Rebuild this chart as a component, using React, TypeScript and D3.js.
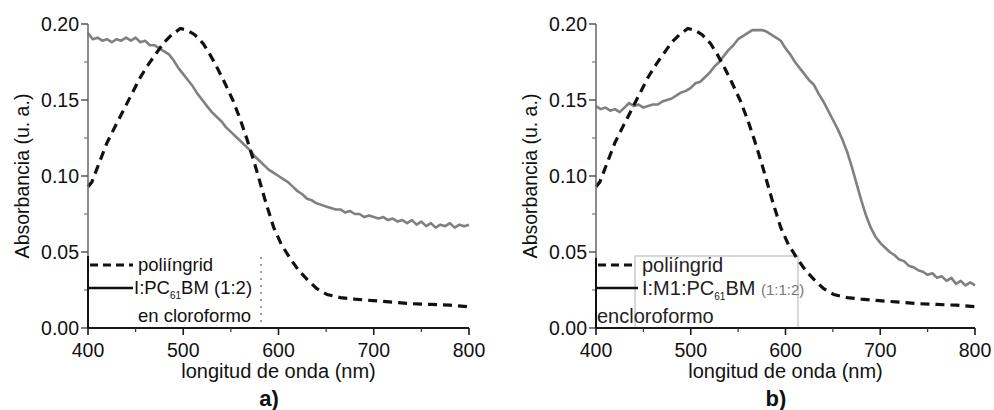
import React from "react";
import * as d3 from "d3";

// ---------- data ----------
const polyWl = [400, 404, 412, 420, 428, 437, 446, 455, 464, 472, 480, 488, 497, 504, 512, 521, 528, 535, 543, 552, 560, 567, 575, 586, 595, 603, 612, 621, 630, 640, 651, 665, 680, 699, 720, 740, 760, 780, 800];
const polyVal = [0.093, 0.096, 0.109, 0.122, 0.132, 0.143, 0.154, 0.165, 0.174, 0.181, 0.188, 0.193, 0.197, 0.196, 0.193, 0.187, 0.18, 0.172, 0.162, 0.15, 0.137, 0.124, 0.108, 0.084, 0.066, 0.055, 0.046, 0.038, 0.032, 0.026, 0.022, 0.02, 0.019, 0.018, 0.017, 0.016, 0.0155, 0.015, 0.014];

const blendWl = [400, 405, 410, 415, 420, 425, 430, 435, 440, 445, 450, 455, 460, 465, 470, 475, 480, 485, 490, 495, 500, 505, 510, 515, 520, 525, 530, 535, 540, 545, 550, 555, 560, 565, 570, 575, 580, 585, 590, 595, 600, 605, 610, 615, 620, 625, 630, 635, 640, 645, 650, 655, 660, 665, 670, 675, 680, 685, 690, 695, 700, 705, 710, 715, 720, 725, 730, 735, 740, 745, 750, 755, 760, 765, 770, 775, 780, 785, 790, 795, 800];
const blendAVal = [0.194, 0.19, 0.191, 0.189, 0.19, 0.188, 0.19, 0.189, 0.191, 0.189, 0.191, 0.188, 0.189, 0.186, 0.186, 0.184, 0.182, 0.18, 0.176, 0.171, 0.167, 0.163, 0.159, 0.154, 0.15, 0.146, 0.142, 0.139, 0.136, 0.132, 0.129, 0.126, 0.123, 0.12, 0.117, 0.113, 0.11, 0.107, 0.104, 0.102, 0.1, 0.098, 0.096, 0.093, 0.09, 0.088, 0.085, 0.084, 0.082, 0.081, 0.08, 0.079, 0.078, 0.078, 0.076, 0.077, 0.075, 0.075, 0.073, 0.074, 0.073, 0.072, 0.073, 0.071, 0.072, 0.07, 0.071, 0.069, 0.071, 0.068, 0.07, 0.067, 0.069, 0.066, 0.068, 0.067, 0.069, 0.066, 0.068, 0.067, 0.068];
const blendBVal = [0.146, 0.144, 0.145, 0.143, 0.144, 0.142, 0.145, 0.148, 0.146, 0.147, 0.145, 0.146, 0.147, 0.147, 0.149, 0.15, 0.151, 0.153, 0.155, 0.156, 0.158, 0.161, 0.162, 0.165, 0.168, 0.172, 0.175, 0.179, 0.183, 0.186, 0.19, 0.192, 0.194, 0.196, 0.196, 0.196, 0.195, 0.193, 0.191, 0.189, 0.184, 0.18, 0.175, 0.171, 0.167, 0.163, 0.16, 0.154, 0.149, 0.143, 0.137, 0.131, 0.124, 0.116, 0.106, 0.095, 0.084, 0.074, 0.066, 0.06, 0.056, 0.053, 0.05, 0.048, 0.045, 0.044, 0.041, 0.04, 0.038, 0.037, 0.035, 0.036, 0.033, 0.034, 0.031, 0.033, 0.029, 0.031, 0.028, 0.03, 0.028];

const xTicks = [400, 500, 600, 700, 800];
const xMinor = [450, 550, 650, 750];
const yTicks = [0, 0.05, 0.1, 0.15, 0.2];
const yMinor = [0.025, 0.075, 0.125, 0.175];
const yTickLabels = ["0.00", "0.05", "0.10", "0.15", "0.20"];

const FONT = "'Liberation Sans', Arial, Helvetica, sans-serif";
const GRAY = "#808080";

type PanelProps = {
  x0: number;
  x1: number;
  blend: number[];
  panelLabel: string;
  labelX: number;
  variant: "a" | "b";
};

function Panel({ x0, x1, blend, panelLabel, labelX, variant }: PanelProps) {
  const xs = d3.scaleLinear().domain([400, 800]).range([x0, x1]);
  const ys = d3.scaleLinear().domain([0, 0.2]).range([328, 24]);
  const line = d3
    .line<[number, number]>()
    .x((d) => xs(d[0]))
    .y((d) => ys(d[1]));
  const polyPts: [number, number][] = polyWl.map((w, i) => [w, polyVal[i]]);
  const blendPts: [number, number][] = blendWl.map((w, i) => [w, blend[i]]);
  const axisY = ys(0);
  const cx = (x0 + x1) / 2;
  const legX2 = x0 + 45;

  return (
    <g>
      {variant === "b" && (
        <rect x={x0 + 39} y={256} width={163} height={72} fill="#fff" stroke="#bdbdbd" strokeWidth={1.2} />
      )}
      {/* curves */}
      <path d={line(blendPts) || ""} fill="none" stroke={GRAY} strokeWidth={2.6} strokeLinejoin="round" />
      <path d={line(polyPts) || ""} fill="none" stroke="#111" strokeWidth={3.2} strokeDasharray="9 6" />

      {/* y axis */}
      <line x1={x0} x2={x0} y1={ys(0.2)} y2={axisY} stroke="#6e6e6e" strokeWidth={1.6} />
      {yTicks.map((t, i) => (
        <g key={"yt" + i}>
          <line x1={x0 - 7} x2={x0} y1={ys(t)} y2={ys(t)} stroke="#555" strokeWidth={1.5} />
          <text x={x0 - 9} y={ys(t)} dy="0.36em" textAnchor="end" fontSize={19.5} fontFamily={FONT} fill="#111">
            {yTickLabels[i]}
          </text>
        </g>
      ))}
      {yMinor.map((t, i) => (
        <line key={"ym" + i} x1={x0 - 4} x2={x0} y1={ys(t)} y2={ys(t)} stroke="#777" strokeWidth={1.2} />
      ))}
      {/* x axis */}
      <line x1={x0} x2={x1} y1={axisY} y2={axisY} stroke="#1a1a1a" strokeWidth={1.8} />
      {xTicks.map((t, i) => (
        <g key={"xt" + i}>
          <line x1={xs(t)} x2={xs(t)} y1={axisY} y2={axisY + 7} stroke="#1a1a1a" strokeWidth={1.6} />
          <text x={xs(t)} y={357} textAnchor="middle" fontSize={19.5} fontFamily={FONT} fill="#111">
            {t}
          </text>
        </g>
      ))}
      {xMinor.map((t, i) => (
        <line key={"xm" + i} x1={xs(t)} x2={xs(t)} y1={axisY} y2={axisY + 4} stroke="#333" strokeWidth={1.2} />
      ))}

      {/* axis titles */}
      <text x={cx} y={378} textAnchor="middle" fontSize={20} fontFamily={FONT} fill="#111">
        longitud de onda (nm)
      </text>
      <text
        transform={`translate(${x0 - 59},176) rotate(-90)`}
        textAnchor="middle"
        fontSize={19.5}
        fontFamily={FONT}
        fill="#111"
      >
        Absorbancia (u. a.)
      </text>
      <text x={labelX} y={406} textAnchor="middle" fontSize={22} fontWeight="bold" fontFamily={FONT} fill="#111">
        {panelLabel}
      </text>

      {/* legend */}
      {variant === "a" ? (
        <g>
          <line x1={x0} x2={x0} y1={256} y2={axisY} stroke="#111" strokeWidth={2} />
          <line x1={x0 + 173} x2={x0 + 173} y1={257} y2={327} stroke="#444" strokeWidth={1} strokeDasharray="2 5" />
          <line x1={x0 + 2} x2={legX2} y1={265} y2={265} stroke="#111" strokeWidth={3} strokeDasharray="8 5" />
          <line x1={x0} x2={legX2} y1={288} y2={288} stroke="#111" strokeWidth={2.6} />
          <text x={x0 + 50} y={271} fontSize={18.5} fontFamily={FONT} fill="#111">poliíngrid</text>
          <text x={x0 + 46} y={294} fontSize={18.5} fontFamily={FONT} fill="#111">
            I:PC
            <tspan fontSize={10} dy={5}>61</tspan>
            <tspan dy={-5}>BM (1:2)</tspan>
          </text>
          <text x={x0 + 50} y={322} fontSize={18.5} fontFamily={FONT} fill="#111">en cloroformo</text>
        </g>
      ) : (
        <g>
          <line x1={x0} x2={x0} y1={258} y2={axisY} stroke="#111" strokeWidth={2} />
          <line x1={x0 + 2} x2={x0 + 40} y1={265} y2={265} stroke="#111" strokeWidth={3} strokeDasharray="8 5" />
          <line x1={x0} x2={x0 + 42} y1={288} y2={288} stroke="#111" strokeWidth={2.4} />
          <text x={x0 + 46} y={272} fontSize={20} fontFamily={FONT} fill="#222">poliíngrid</text>
          <text x={x0 + 46} y={295} fontSize={20} fontFamily={FONT} fill="#222">
            I:M1:PC
            <tspan fontSize={10} dy={5}>61</tspan>
            <tspan dy={-5}>BM </tspan>
            <tspan fontSize={15} fill="#777">(1:1:2)</tspan>
          </text>
          <text x={x0 + 1} y={323} fontSize={20} fontFamily={FONT} fill="#222">encloroformo</text>
        </g>
      )}
    </g>
  );
}

export default function App() {
  return (
    <svg
      width={994}
      height={410}
      viewBox="0 0 994 410"
      style={{ position: "absolute", left: 0, top: 0, background: "#fff" }}
    >
      <rect width={994} height={410} fill="#fff" />
      <Panel x0={88} x1={469} blend={blendAVal} panelLabel="a)" labelX={269} variant="a" />
      <Panel x0={596} x1={975} blend={blendBVal} panelLabel="b)" labelX={776} variant="b" />
    </svg>
  );
}
